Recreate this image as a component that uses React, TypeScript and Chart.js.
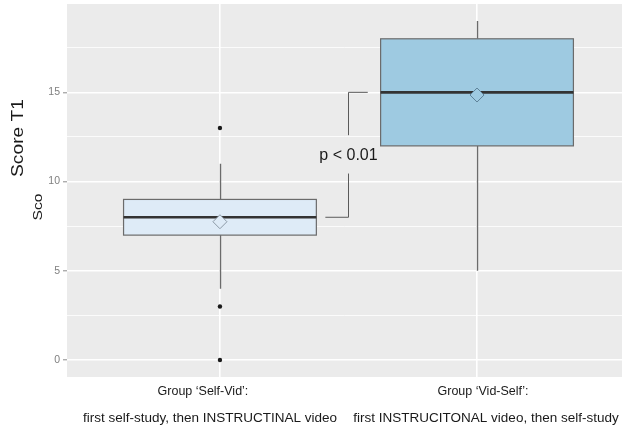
import React, { useEffect, useRef } from 'react';
import { Chart, registerables } from 'chart.js';

Chart.register(...registerables);

// ---- data ----
const groups = [1, 2];
const groupLine1 = ['Group \u2018Self-Vid\u2019:', 'Group \u2018Vid-Self\u2019:'];
const groupLine2 = [
  'first self-study, then INSTRUCTINAL video',
  'first INSTRUCITONAL video, then self-study',
];
const q1 = [7, 12];
const medians = [8, 15];
const q3 = [9, 18];
const whiskerLow = [4, 5];
const whiskerHigh = [11, 19];
const means = [7.75, 14.85];
const outlierGroup = [1, 1, 1];
const outlierValues = [13, 3, 0];
const yTicks = [0, 2.5, 5, 7.5, 10, 12.5, 15, 17.5];
const yLabelTicks = [0, 5, 10, 15];
const pLabel = 'p < 0.01';
const yTitle = 'Score T1';
const ySubTitle = 'Sco';

// ---- styles ----
const FONT = "'Liberation Sans', Arial, sans-serif";
const boxFills = ['#deebf7', '#9ecae1'];
const meanBorders = ['#8c9aa6', '#5f8299'];

const boxPlugin = {
  id: 'boxPlugin',
  beforeDraw(chart: any) {
    const { ctx, chartArea: a } = chart;
    ctx.save();
    ctx.fillStyle = '#ffffff';
    ctx.fillRect(0, 0, chart.width, chart.height);
    ctx.fillStyle = '#ebebeb';
    ctx.fillRect(a.left, a.top, a.right - a.left, a.bottom - a.top);
    ctx.restore();
  },
  beforeDatasetsDraw(chart: any) {
    const { ctx } = chart;
    const xs = chart.scales.x;
    const ys = chart.scales.y;
    ctx.save();
    groups.forEach((g, i) => {
      const cx = Math.round(xs.getPixelForValue(g)) + 0.5;
      const l = xs.getPixelForValue(g - 0.375);
      const r = xs.getPixelForValue(g + 0.375);
      // whiskers
      ctx.strokeStyle = '#6b6b6b';
      ctx.lineWidth = 1.4;
      ctx.beginPath();
      ctx.moveTo(cx, ys.getPixelForValue(q3[i]));
      ctx.lineTo(cx, ys.getPixelForValue(whiskerHigh[i]));
      ctx.moveTo(cx, ys.getPixelForValue(q1[i]));
      ctx.lineTo(cx, ys.getPixelForValue(whiskerLow[i]));
      ctx.stroke();
      // box
      const top = ys.getPixelForValue(q3[i]);
      const bot = ys.getPixelForValue(q1[i]);
      ctx.fillStyle = boxFills[i];
      ctx.fillRect(l, top, r - l, bot - top);
      ctx.strokeStyle = '#6b6b6b';
      ctx.lineWidth = 1.2;
      ctx.strokeRect(l, top, r - l, bot - top);
      // median
      const my = ys.getPixelForValue(medians[i]);
      ctx.strokeStyle = '#333333';
      ctx.lineWidth = 2.6;
      ctx.beginPath();
      ctx.moveTo(l, my);
      ctx.lineTo(r, my);
      ctx.stroke();
    });
    // significance bracket
    const bx = Math.round(xs.getPixelForValue(1.5)) + 0.5;
    ctx.strokeStyle = '#5a5a5a';
    ctx.lineWidth = 1;
    ctx.beginPath();
    ctx.moveTo(xs.getPixelForValue(1.575), ys.getPixelForValue(medians[1]));
    ctx.lineTo(bx, ys.getPixelForValue(medians[1]));
    ctx.lineTo(bx, ys.getPixelForValue(12.6));
    ctx.moveTo(bx, ys.getPixelForValue(10.45));
    ctx.lineTo(bx, ys.getPixelForValue(medians[0]));
    ctx.lineTo(xs.getPixelForValue(1.41), ys.getPixelForValue(medians[0]));
    ctx.stroke();
    ctx.fillStyle = '#1a1a1a';
    ctx.font = `16px ${FONT}`;
    ctx.textAlign = 'center';
    ctx.textBaseline = 'middle';
    ctx.fillText(pLabel, xs.getPixelForValue(1.5), ys.getPixelForValue(11.45));
    ctx.restore();
  },
  afterDraw(chart: any) {
    const { ctx } = chart;
    const xs = chart.scales.x;
    ctx.save();
    ctx.fillStyle = '#1a1a1a';
    ctx.textAlign = 'center';
    ctx.textBaseline = 'middle';
    // axis titles (rotated)
    ctx.save();
    ctx.translate(19, 138);
    ctx.rotate(-Math.PI / 2);
    ctx.scale(1.2, 1);
    ctx.font = `16px ${FONT}`;
    ctx.fillText(yTitle, 0, 0);
    ctx.restore();
    ctx.save();
    ctx.translate(38.5, 207);
    ctx.rotate(-Math.PI / 2);
    ctx.scale(1.2, 1);
    ctx.font = `13px ${FONT}`;
    ctx.fillText(ySubTitle, 0, 0);
    ctx.restore();
    // category labels
    const line1Off = [-17, 6];
    const line2Off = [-10, 9];
    groups.forEach((g, i) => {
      const cx = xs.getPixelForValue(g);
      ctx.font = `12.5px ${FONT}`;
      ctx.fillText(groupLine1[i], cx + line1Off[i], 392);
      ctx.font = `13.5px ${FONT}`;
      ctx.fillText(groupLine2[i], cx + line2Off[i], 418);
    });
    ctx.restore();
  },
};

export default function App() {
  const ref = useRef<HTMLCanvasElement | null>(null);
  useEffect(() => {
    if (!ref.current) return;
    const chart = new Chart(ref.current, {
      type: 'scatter',
      data: {
        datasets: [
          {
            label: 'outliers',
            data: outlierValues.map((v, i) => ({ x: outlierGroup[i], y: v })),
            pointRadius: 2.2,
            pointBackgroundColor: '#1a1a1a',
            pointBorderWidth: 0,
          },
          {
            label: 'means',
            data: means.map((v, i) => ({ x: groups[i], y: v })),
            pointStyle: 'rectRot',
            pointRadius: 7,
            pointBackgroundColor: boxFills,
            pointBorderColor: meanBorders,
            pointBorderWidth: 1,
          },
        ],
      },
      options: {
        responsive: false,
        devicePixelRatio: 1,
        animation: false,
        layout: { autoPadding: false, padding: { top: 4, right: 0, left: 0, bottom: 0 } },
        plugins: { legend: { display: false }, tooltip: { enabled: false } },
        scales: {
          x: {
            type: 'linear',
            min: 0.405,
            max: 2.564,
            afterBuildTicks: (s: any) => {
              s.ticks = groups.map((v) => ({ value: v }));
            },
            afterFit: (s: any) => {
              s.height = 53;
              s.paddingLeft = 0;
              s.paddingRight = 0;
            },
            ticks: { display: false },
            border: { display: false },
            grid: { color: '#ffffff', lineWidth: 1.6, drawTicks: false },
          },
          y: {
            type: 'linear',
            min: -0.95,
            max: 19.95,
            afterBuildTicks: (s: any) => {
              s.ticks = yTicks.map((v) => ({ value: v }));
            },
            afterFit: (s: any) => {
              s.width = 67;
              s.paddingTop = 0;
              s.paddingBottom = 0;
            },
            border: { display: false },
            ticks: {
              autoSkip: false,
              padding: 3,
              color: '#7f7f7f',
              font: { family: FONT, size: 10.5 },
              callback: (v: any) => (yLabelTicks.includes(Number(v)) ? String(v) : ''),
            },
            grid: {
              color: '#ffffff',
              lineWidth: (c: any) => (c.tick && yLabelTicks.includes(c.tick.value) ? 1.6 : 0.8),
              tickLength: 4,
              tickWidth: 1,
              tickColor: (c: any) =>
                c.tick && yLabelTicks.includes(c.tick.value) ? '#8a8a8a' : 'rgba(0,0,0,0)',
            },
          },
        },
      },
      plugins: [boxPlugin],
    } as any);
    return () => chart.destroy();
  }, []);
  return (
    <div style={{ position: 'fixed', left: 0, top: 0, width: 622, height: 430 }}>
      <canvas ref={ref} width={622} height={430} style={{ display: 'block' }} />
    </div>
  );
}
